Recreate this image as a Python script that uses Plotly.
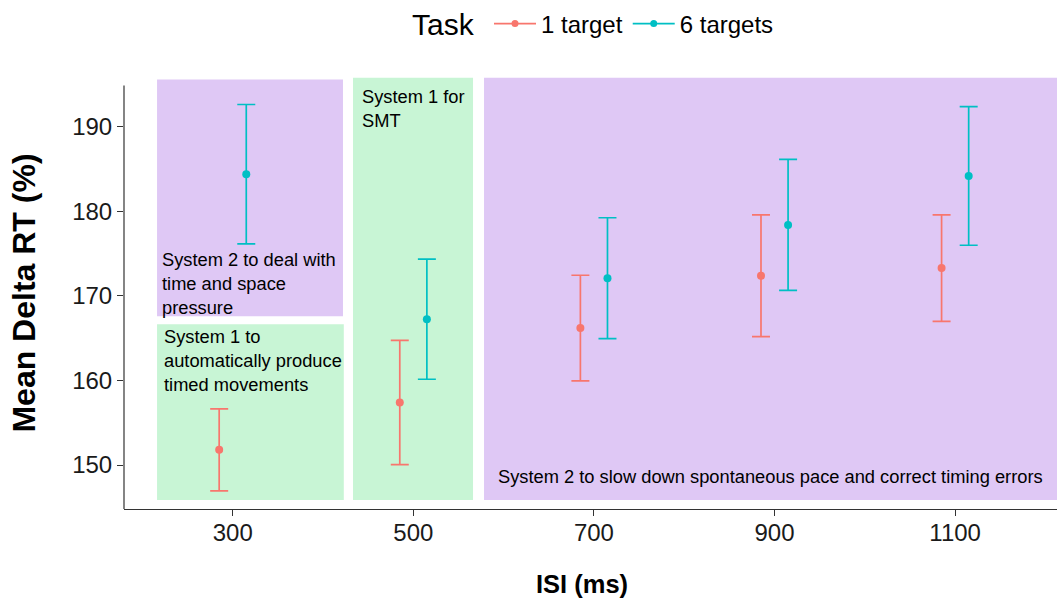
import plotly.graph_objects as go

# ---- data ----
isi = [300, 500, 700, 900, 1100]
tick_vals = [300, 500, 700, 900, 1100]
tick_text = ["300", "500", "700", "900", "1100"]
y_ticks = [150, 160, 170, 180, 190]

task_names = ["1 target", "6 targets"]
mean_1 = [151.8, 157.4, 166.2, 172.4, 173.3]
err_1 = [4.85, 7.35, 6.25, 7.2, 6.3]
mean_6 = [184.4, 167.25, 172.1, 178.4, 184.2]
err_6 = [8.25, 7.1, 7.15, 7.75, 8.2]

# shaded regions: (x0, x1, y0, y1, kind)
regions = [
    (216.2, 422.1, 167.6, 195.6, "s2"),
    (216.2, 423.0, 145.85, 166.65, "s1"),
    (433.2, 566.1, 145.85, 195.8, "s1"),
    (578.3, 1300.0, 145.85, 195.8, "s2"),
]
region_texts = [
    (219.5, 171.5, "System 2 to deal with<br>time and space<br>pressure"),
    (221.7, 162.4, "System 1 to<br>automatically produce<br>timed movements"),
    (441.0, 192.2, "System 1 for<br>SMT"),
    (591.0, 148.6, "System 2 to slow down spontaneous pace and correct timing errors"),
]

colors = {"1 target": "#F8766D", "6 targets": "#00BFC4"}
fill = {"s1": "#C8F5D5", "s2": "#DFC8F5"}
dodge = 15

fig = go.Figure()

for name, means, errs, off in [(task_names[0], mean_1, err_1, -dodge),
                               (task_names[1], mean_6, err_6, dodge)]:
    fig.add_trace(go.Scatter(
        x=[v + off for v in isi], y=means, mode="markers", name=name,
        showlegend=False,
        marker=dict(color=colors[name], size=8),
        error_y=dict(type="data", array=errs, symmetric=True,
                     color=colors[name], thickness=1.7, width=9),
    ))
    # legend key (line + dot)
    fig.add_trace(go.Scatter(
        x=[None], y=[None], mode="lines+markers", name=name,
        line=dict(color=colors[name], width=1.7),
        marker=dict(color=colors[name], size=7),
    ))

shapes = []
for x0, x1, y0, y1, kind in regions:
    shapes.append(dict(type="rect", xref="x", yref="y", x0=x0, x1=x1, y0=y0, y1=y1,
                       fillcolor=fill[kind], line=dict(width=0), layer="below"))
# y axis line (does not span the full panel height)
y_lo, y_hi = 144.8, 195.9
shapes.append(dict(type="line", xref="paper", yref="paper", x0=0, x1=0,
                   y0=0, y1=(194.9 - y_lo) / (y_hi - y_lo),
                   line=dict(color="#333333", width=1.2)))

annotations = []
for x, y, t in region_texts:
    annotations.append(dict(x=x, y=y, xref="x", yref="y", text=t, showarrow=False,
                            xanchor="left", yanchor="middle", align="left",
                            font=dict(size=18.3, color="black",
                                      family="Liberation Sans, Arial, sans-serif")))
# legend title
annotations.append(dict(x=(410 - 124) / 933, y=(509 - 24) / 432, xref="paper", yref="paper",
                        text="Task", showarrow=False, xanchor="left", yanchor="middle",
                        font=dict(size=30, color="black")))
# x axis title
annotations.append(dict(x=(582 - 124) / 933, y=-(584 - 509) / 432, xref="paper", yref="paper",
                        text="<b>ISI (ms)</b>", showarrow=False, xanchor="center",
                        yanchor="middle", font=dict(size=25.5, color="black")))

fig.update_layout(
    width=1057, height=603,
    margin=dict(l=124, r=0, t=77, b=94),
    paper_bgcolor="white", plot_bgcolor="white",
    font=dict(family="Liberation Sans, Arial, sans-serif", color="black"),
    shapes=shapes, annotations=annotations,
    legend=dict(orientation="h", x=(489 - 124) / 933, xanchor="left",
                y=(509 - 24) / 432, yanchor="middle",
                font=dict(size=24), itemwidth=42, tracegroupgap=0),
    xaxis=dict(range=[179.6, 1212.8], tickvals=tick_vals, ticktext=tick_text,
               showgrid=False, zeroline=False, showline=True, linecolor="#333333",
               linewidth=1.2, ticks="outside", ticklen=6, tickcolor="#333333",
               ticklabelstandoff=-4,
               tickfont=dict(size=24, color="#1a1a1a")),
    yaxis=dict(range=[y_lo, y_hi], tickvals=y_ticks,
               showgrid=False, zeroline=False, showline=False,
               ticks="outside", ticklen=6, tickcolor="#333333",
               tickfont=dict(size=24, color="#1a1a1a"),
               title=dict(text="<b>Mean Delta RT (%)</b>", font=dict(size=32), standoff=26)),
)

fig.write_html("out.html", config={"displayModeBar": False},
               post_script="document.body.style.margin='0';")
